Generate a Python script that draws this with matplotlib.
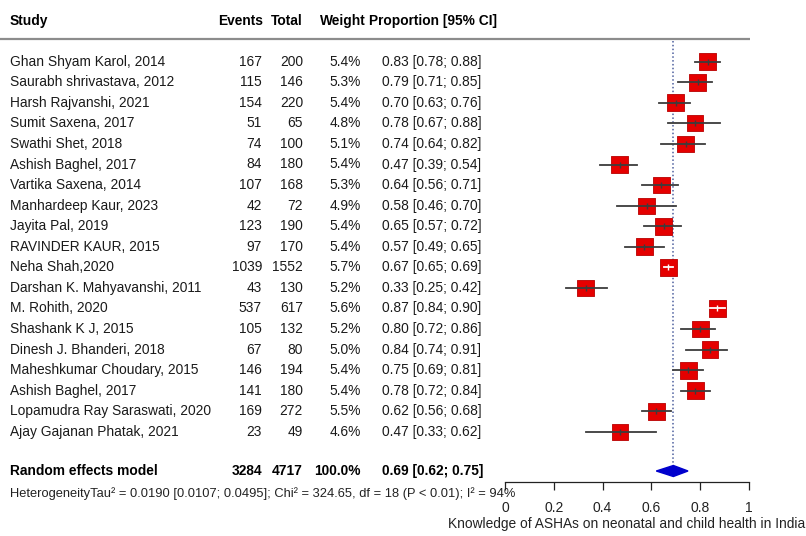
import numpy as np
import matplotlib.pyplot as plt

studies = ['Ghan Shyam Karol, 2014', 'Saurabh shrivastava, 2012', 'Harsh Rajvanshi, 2021',
           'Sumit Saxena, 2017', 'Swathi Shet, 2018', 'Ashish Baghel, 2017',
           'Vartika Saxena, 2014', 'Manhardeep Kaur, 2023', 'Jayita Pal, 2019',
           'RAVINDER KAUR, 2015', 'Neha Shah,2020', 'Darshan K. Mahyavanshi, 2011',
           'M. Rohith, 2020', 'Shashank K J, 2015', 'Dinesh J. Bhanderi, 2018',
           'Maheshkumar Choudary, 2015', 'Ashish Baghel, 2017',
           'Lopamudra Ray Saraswati, 2020', 'Ajay Gajanan Phatak, 2021']
events = [167, 115, 154, 51, 74, 84, 107, 42, 123, 97, 1039, 43, 537, 105, 67, 146, 141, 169, 23]
totals = [200, 146, 220, 65, 100, 180, 168, 72, 190, 170, 1552, 130, 617, 132, 80, 194, 180, 272, 49]
weights = [5.4, 5.3, 5.4, 4.8, 5.1, 5.4, 5.3, 4.9, 5.4, 5.4, 5.7, 5.2, 5.6, 5.2, 5.0, 5.4, 5.4, 5.5, 4.6]
props = [0.83, 0.79, 0.70, 0.78, 0.74, 0.47, 0.64, 0.58, 0.65, 0.57, 0.67, 0.33, 0.87, 0.80, 0.84, 0.75, 0.78, 0.62, 0.47]
lower = [0.78, 0.71, 0.63, 0.67, 0.64, 0.39, 0.56, 0.46, 0.57, 0.49, 0.65, 0.25, 0.84, 0.72, 0.74, 0.69, 0.72, 0.56, 0.33]
upper = [0.88, 0.85, 0.76, 0.88, 0.82, 0.54, 0.71, 0.70, 0.72, 0.65, 0.69, 0.42, 0.90, 0.86, 0.91, 0.81, 0.84, 0.68, 0.62]

re_events, re_total, re_weight = 3284, 4717, 100.0
re_prop, re_lower, re_upper = 0.69, 0.62, 0.75
hetero = u"HeterogeneityTau\u00b2 = 0.0190 [0.0107; 0.0495]; Chi\u00b2 = 324.65, df = 18 (P < 0.01); I\u00b2 = 94%"
xticks = [0, 0.2, 0.4, 0.6, 0.8, 1]
xticklabels = ['0', '0.2', '0.4', '0.6', '0.8', '1']
xlabel = 'Knowledge of ASHAs on neonatal and child health in India'

font = 'Liberation Sans'

# pixel helpers (layout only): 0 -> 505px, 1 -> 749px ; first row at 61.7px, step 20.56px
def xp(px):
    return (px - 505) / 244.

def yp(py):
    return (py - 61.7) / 20.56

fig = plt.figure(figsize=(8.06, 5.36), dpi=100)
ax = fig.add_axes([0, 0, 1, 1])
ax.set_xlim(xp(0), xp(806))
ax.set_ylim(yp(536), yp(0))

rows = np.arange(len(studies))

# squares, area proportional to weight
side_px = 17. * np.sqrt(np.array(weights) / 5.4)
ax.scatter(props, rows, marker='s', s=(side_px * 0.72) ** 2, c='#e50000',
           edgecolors='#b80000', linewidths=0.6, zorder=3)
for i in rows:
    col = 'white' if (upper[i] - lower[i]) * 244 < side_px[i] else '#3c3c3c'
    ax.plot([lower[i], upper[i]], [i, i], color=col, lw=1.3, zorder=4)
    ax.plot(props[i], i, marker='|', ms=4, mew=1, color=col, zorder=4)

# pooled estimate
ry = yp(471)
h = 5.5 / 20.56
ax.fill([re_lower, re_prop, re_upper, re_prop], [ry, ry - h, ry, ry + h],
        color='#0000cd', zorder=4)
ax.plot([re_prop, re_prop], [yp(41), ry - h], ls=(0, (1, 1.5)), color='#4d5f9e', lw=1.1, zorder=2)

# header line
ax.plot([xp(0), xp(750)], [yp(39.3), yp(39.3)], color='#8c8c8c', lw=1.6, solid_capstyle='butt')

# x axis
for s in ['left', 'right', 'top']:
    ax.spines[s].set_visible(False)
ax.spines['bottom'].set_position(('data', yp(482)))
ax.spines['bottom'].set_bounds(0, 1)
ax.spines['bottom'].set_linewidth(0.9)
ax.spines['bottom'].set_color('#222222')
ax.set_yticks([])
ax.set_xticks(xticks)
ax.set_xticklabels(xticklabels, family=font, fontsize=10)
ax.tick_params(axis='x', direction='out', length=5.5, width=0.9, pad=8, colors='#222222')
ax.text(0.5, yp(524), xlabel, ha='center', va='center', family=font,
        fontsize=9.9, color='#222222')

# columns
hy = yp(20.7)
fs = 9.9
ax.text(xp(10), hy, 'Study', fontweight='bold', family=font, fontsize=fs, va='center')
ax.text(xp(263), hy, 'Events', fontweight='bold', family=font, fontsize=fs, va='center', ha='right')
ax.text(xp(303), hy, 'Total', fontweight='bold', family=font, fontsize=fs, va='center', ha='right')
ax.text(xp(366), hy, 'Weight', fontweight='bold', family=font, fontsize=fs, va='center', ha='right')
ax.text(xp(369), hy, 'Proportion [95% CI]', fontweight='bold', family=font, fontsize=fs, va='center')

for i in rows:
    ax.text(xp(10), i, studies[i], family=font, fontsize=fs, va='center', color='#1a1a1a')
    ax.text(xp(262), i, str(events[i]), family=font, fontsize=fs, va='center', ha='right', color='#1a1a1a')
    ax.text(xp(303), i, str(totals[i]), family=font, fontsize=fs, va='center', ha='right', color='#1a1a1a')
    ax.text(xp(361), i, '%.1f%%' % weights[i], family=font, fontsize=fs, va='center', ha='right', color='#1a1a1a')
    ax.text(xp(382), i, '%.2f [%.2f; %.2f]' % (props[i], lower[i], upper[i]), family=font,
            fontsize=fs, va='center', color='#1a1a1a')

ax.text(xp(10), ry, 'Random effects model', fontweight='bold', family=font, fontsize=fs, va='center')
ax.text(xp(262), ry, str(re_events), fontweight='bold', family=font, fontsize=fs, va='center', ha='right')
ax.text(xp(303), ry, str(re_total), fontweight='bold', family=font, fontsize=fs, va='center', ha='right')
ax.text(xp(361), ry, '%.1f%%' % re_weight, fontweight='bold', family=font, fontsize=fs, va='center', ha='right')
ax.text(xp(382), ry, '%.2f [%.2f; %.2f]' % (re_prop, re_lower, re_upper), fontweight='bold',
        family=font, fontsize=fs, va='center')
ax.text(xp(10), yp(494), hetero, family=font, fontsize=9.25, va='center', color='#222222')

plt.savefig('out.png', dpi=100)
